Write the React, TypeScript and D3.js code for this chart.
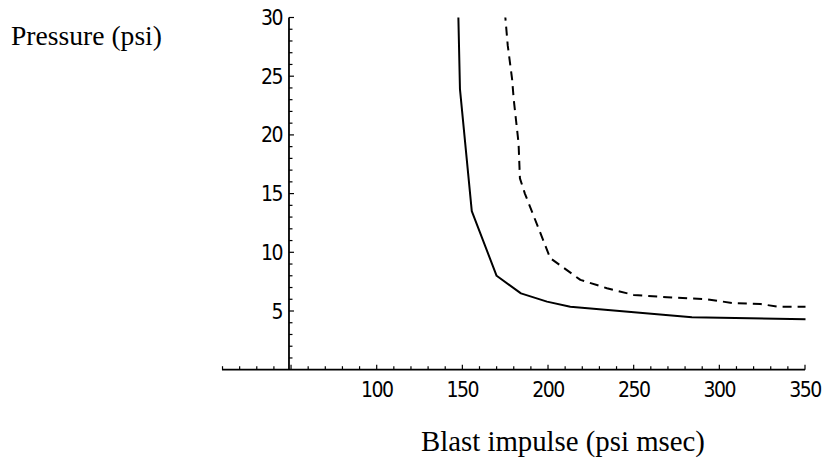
import React from "react";
import * as d3 from "d3";

const xTickValues = [100, 150, 200, 250, 300, 350];
const yTickValues = [5, 10, 15, 20, 25, 30];

// Solid curve (impulse psi·msec, pressure psi)
const solidImpulse = [147.6, 148.6, 155.5, 170, 184.2, 199.4, 213, 284, 350.3];
const solidPressure = [30.5, 23.9, 13.5, 8.0, 6.5, 5.8, 5.37, 4.47, 4.3];

// Dashed curve
const dashedImpulse = [174.8, 176.5, 179, 180, 182.8, 183.6, 186.5, 201.3, 218.9, 234.4, 250, 269.5, 292.9, 308.4, 324, 333.8, 350.3];
const dashedPressure = [30.5, 27.6, 24.8, 23.0, 19.3, 16.3, 15.0, 9.5, 7.65, 6.94, 6.37, 6.17, 6.0, 5.66, 5.6, 5.37, 5.37];

const xLabel = "Blast impulse (psi msec)";
const yLabel = "Pressure (psi)";

const W = 822;
const H = 461;

const tickFont = "'DejaVu Sans Condensed', 'Liberation Sans', Arial, sans-serif";

export default function App() {
  const x = d3.scaleLinear().domain([100, 350]).range([376.7, 805]);
  const y = d3.scaleLinear().domain([0, 30]).range([369.7, 17.5]);
  const xMin = 9.7;
  const xOrigin = 48.8;

  const line = d3
    .line<[number, number]>()
    .x((d) => x(d[0]))
    .y((d) => y(d[1]));

  const solid: [number, number][] = solidImpulse.map((v, i) => [v, solidPressure[i]]);
  const dashed: [number, number][] = dashedImpulse.map((v, i) => [v, dashedPressure[i]]);

  const xMinor = d3.range(10, 351, 10);
  const yMinor = d3.range(1, 31, 1);
  const axisY = y(0);
  const axisX = x(xOrigin);

  return (
    <svg
      width={W}
      height={H}
      style={{ position: "absolute", left: 0, top: 0, background: "#fff" }}
    >
      <defs>
        <clipPath id="plotclip">
          <rect x={x(xMin)} y={y(30)} width={x(350) - x(xMin) + 2} height={y(0) - y(30)} />
        </clipPath>
      </defs>
      <rect x={0} y={0} width={W} height={H} fill="#fff" />

      {/* x axis */}
      <line x1={x(xMin)} x2={x(350)} y1={axisY} y2={axisY} stroke="#000" strokeWidth={1.8} />
      {xMinor.map((v) => {
        const major = v % 50 === 0;
        return (
          <line
            key={"xt" + v}
            x1={x(v)}
            x2={x(v)}
            y1={axisY}
            y2={axisY - (major ? 5 : 3.5)}
            stroke="#000"
            strokeWidth={1.2}
          />
        );
      })}
      {xTickValues.map((v) => (
        <text
          key={"xl" + v}
          x={x(v)}
          y={397}
          textAnchor="middle"
          fontFamily={tickFont}
          fontSize={21}
          letterSpacing={-1.5}
        >
          {v}
        </text>
      ))}

      {/* y axis */}
      <line x1={axisX} x2={axisX} y1={y(0)} y2={y(30)} stroke="#000" strokeWidth={1.8} />
      {yMinor.map((v) => {
        const major = v % 5 === 0;
        return (
          <line
            key={"yt" + v}
            x1={axisX}
            x2={axisX + (major ? 5 : 3.5)}
            y1={y(v)}
            y2={y(v)}
            stroke="#000"
            strokeWidth={1.2}
          />
        );
      })}
      {yTickValues.map((v) => (
        <text
          key={"yl" + v}
          x={282}
          y={y(v) + 7.5}
          textAnchor="end"
          fontFamily={tickFont}
          fontSize={21}
          letterSpacing={-1.5}
        >
          {v}
        </text>
      ))}

      {/* curves */}
      <g clipPath="url(#plotclip)">
        <path d={line(solid) || ""} fill="none" stroke="#000" strokeWidth={2} strokeLinejoin="round" />
        <path
          d={line(dashed) || ""}
          fill="none"
          stroke="#000"
          strokeWidth={2}
          strokeDasharray="9,6"
          strokeLinejoin="round"
        />
      </g>

      {/* axis titles */}
      <text x={11} y={45} fontFamily="Liberation Serif, Times New Roman, serif" fontSize={27.6}>
        {yLabel}
      </text>
      <text x={421} y={451} fontFamily="Liberation Serif, Times New Roman, serif" fontSize={28.8}>
        {xLabel}
      </text>
    </svg>
  );
}
